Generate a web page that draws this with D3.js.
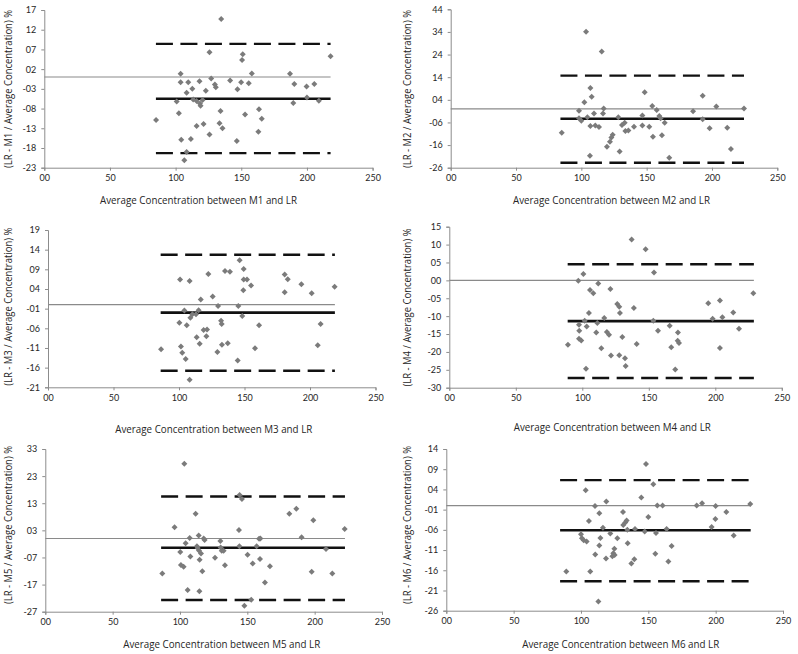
<!DOCTYPE html>
<html><head><meta charset="utf-8">
<script src="https://cdn.jsdelivr.net/npm/d3@7"></script>
<style>body{margin:0;background:#fff} svg{display:block} text{font-family:Lato,"Open Sans",sans-serif;fill:#262626}</style>
</head><body><svg id="c" width="798" height="654"></svg>
<script>
const methods = ["M1","M2","M3","M4","M5","M6"];
const xTickValues = [0,50,100,150,200,250];

const m1X = [134.7,85.1,103.8,103.8,109.6,108.4,112.7,100.8,102.5,104.3,111.6,108.4,106.6,113.4,116,118.5,119,120.5,118.2,123,116,121.3,125.8,127.1,129.9,130.6,125.8,134.2,133.4,135.7,141.5,147.1,149.9,151.1,150.6,146.6,152.9,158,155.7,163.5,165.6,163,187.1,190.4,189.6,199.7,200,205.6,209.1,218];
const m1Y = [14.7,-10.9,0.8,-1.3,-1.3,-4.0,-3.0,-6.2,-9.2,-15.9,-15.7,-19.0,-21.1,-5.7,-6.1,-6.7,-7.3,-5.8,-1.1,-3.5,-12.4,-11.9,6.3,-0.4,-1.9,-2.6,-14.6,-8.6,-11.7,-13.0,-0.9,-3.1,-1.3,5.8,4.3,-16.2,-9.5,0.9,-1.6,-8.2,-10.6,-13.9,0.8,-1.8,-6.6,-2.4,-5.2,-1.8,-6.0,5.3];

const m2X = [103.6,115.6,85,98.2,98.2,100,102.3,104.6,106.9,107.9,106.9,106.6,109.7,110.7,113.5,117.1,116.6,119.6,121.9,123,124,128.3,129.3,131.1,133.2,133.7,136,140.3,146.7,146.7,148.5,152,154.3,154.8,157.7,159.7,160.7,161.7,163.8,167.3,185.5,192.9,192.9,198.2,203.3,211.7,214.5,224.5];
const m2Y = [34.1,25.3,-10.5,-0.8,-4.2,-5.2,2.9,-3.7,9.2,5.4,-7.6,-20.7,-2.0,-7.4,-8.0,0.2,-2.0,-16.7,-14.5,-12.6,-11.4,-3.7,-18.8,-7.1,-6.1,-9.8,-9.6,-7.9,-2.9,-7.4,7.3,-7.9,1.3,-12.3,-0.5,-3.2,-4.2,-11.7,-6.1,-21.6,-1.1,5.8,-4.6,-8.6,1.1,-8.3,-17.7,0.2];

const m3X = [86.3,100.8,100.3,101.5,102.5,104.1,105.1,105.9,108.1,108.7,110.2,108.1,113,115,113.5,115.8,116.6,118.8,121.4,120.9,122.4,125.7,129.3,129.8,132.1,132.6,132.8,135.1,137.2,138.9,145.3,144.8,146.3,148.3,149.4,149.1,149.4,151.9,155,158,161.1,180.7,180.7,183,193.4,201.3,205.9,208.1,218.8];
const m3Y = [-11.3,6.4,-4.6,-10.6,-12.2,-1.5,-13.8,-5.2,6.0,-3.3,-2.4,-19.1,-2.4,-1.4,-8.3,-9.9,1.3,-6.4,-6.3,-8.0,7.8,2.1,-12.0,-0.3,-4.1,-4.9,-10.2,8.6,-9.8,8.4,-0.3,-14.2,11.3,-2.9,9.1,3.7,6.4,6.4,4.9,-11.1,-5.2,7.7,3.2,6.5,5.2,2.9,-10.3,-4.9,4.6];

const m4X = [89.2,97.0,97.5,97.7,97.5,99.2,100.8,101.8,103.3,102.8,105.0,105.8,108.3,110.5,111.3,112.0,114.3,116.5,118.5,120.1,121.1,121.6,126.3,127.8,128.3,127.8,130.1,132.1,132.6,137.1,138.8,140.9,147.6,153.9,153.4,156.9,165.7,166.9,169.9,171.9,171.7,172.7,194.7,198.0,203.5,203.5,205.3,213.5,217.8,228.6];
const m4Y = [-18.0,-0.1,-12.4,-14.1,-16.3,-16.8,1.8,-11.3,-12.9,-24.7,-9.1,-2.7,-3.6,-14.6,-11.9,-0.9,-19.0,-10.5,-14.4,-15.2,-2.4,-21.0,-6.6,-7.4,-9.1,-20.9,-15.8,-21.8,-23.9,11.4,-7.7,-17.8,8.7,2.2,-11.3,-14.1,-12.7,-18.7,-24.9,-14.6,-16.9,-17.5,-6.4,-10.7,-5.6,-18.9,-10.3,-9.0,-13.5,-3.6];

const m5X = [86.9,96.0,100.2,100.7,102.7,103.2,104.2,105.7,107.2,107.7,111.6,112.6,113.1,113.9,114.1,114.6,114.4,115.6,116.6,117.6,118.3,126.0,130.0,130.2,131.0,132.4,133.4,143.8,144.1,144.3,146.0,147.8,150.2,152.9,154.0,156.9,158.7,159.7,159.4,163.1,166.8,181.2,186.4,190.3,197.8,199.0,208.4,213.1,222.3];
const m5Y = [-12.9,4.1,-5.0,-9.8,-10.4,27.6,-1.8,-19.0,0.2,-6.6,9.1,-2.9,-3.5,1.1,-4.4,-7.8,-19.5,-5.5,-12.1,0.0,-0.6,-7.1,-0.9,-3.3,-4.5,-4.5,-9.9,3.1,-2.9,16.0,14.6,-24.8,-6.0,-22.6,-9.2,-2.9,-0.1,0.0,-7.6,-16.2,-10.2,9.1,11.0,0.5,-12.3,6.7,-3.9,-12.9,3.5];

const m6X = [89.1,100.0,100.7,102.0,103.5,104.2,105.9,106.9,110.4,110.6,112.9,113.6,113.6,114.4,116.3,118.8,118.6,121.8,123.3,124.0,124.8,125.0,127.0,131.2,131.4,132.9,133.9,134.4,134.7,137.4,139.6,140.1,144.8,147.3,148.3,150.0,153.7,155.2,155.7,156.7,160.6,163.6,164.9,167.3,185.9,189.9,200.0,199.8,197.0,207.9,213.4,225.7];
const m6Y = [-16.3,-7.1,-8.1,-8.6,3.8,-8.9,-3.8,-16.3,-0.1,-12.1,-23.7,-1.9,-9.9,-8.0,-5.5,1.0,-13.1,-6.9,-12.5,-11.8,-10.7,-12.2,-8.1,-1.6,-4.8,-4.2,-3.7,-6.0,-9.3,-14.3,-13.3,-5.8,2.0,-6.4,10.3,-2.8,5.3,-11.9,-6.8,0.0,0.0,-5.8,-13.8,-10.0,0.0,0.6,-0.1,-3.3,-5.3,-1.6,-7.4,0.4];

const yTicksM1 = [17,12,7,2,-3,-8,-13,-18,-23];
const yTicksM2 = [44,34,24,14,4,-6,-16,-26];
const yTicksM3 = [19,14,9,4,-1,-6,-11,-16,-21];
const yTicksM4 = [15,10,5,0,-5,-10,-15,-20,-25,-30];
const yTicksM5 = [33,23,13,3,-7,-17,-27];
const yTicksM6 = [14,9,4,-1,-6,-11,-16,-21,-26];

const meanBias = [-5.5,-4.4,-2.0,-11.4,-3.4,-6.1];
const upperLoA = [8.4,14.7,12.7,4.5,15.5,6.3];
const lowerLoA = [-19.3,-23.8,-16.8,-27.3,-22.7,-18.7];
const lineStart = [85,84,86,89,86,84.5];
const lineEnd = [218,224.5,219,229,222.5,226];

const xs = [m1X,m2X,m3X,m4X,m5X,m6X];
const ys = [m1Y,m2Y,m3Y,m4Y,m5Y,m6Y];
const yTicks = [yTicksM1,yTicksM2,yTicksM3,yTicksM4,yTicksM5,yTicksM6];

// layout (pixel positions of each plot area and its titles)
const layout = [
  {l:44.3, r:372.6, t:10,    b:167.7, tx:198.5, ty:199.3, yx:8,     yy:89},
  {l:450.7,r:777.3, t:9.3,   b:167.7, tx:611.5, ty:199.5, yx:407,   yy:89},
  {l:48,   r:375.5, t:230,   b:387.3, tx:213.8, ty:428.3, yx:8,     yy:306.7},
  {l:449.3,r:781.8, t:226.7, b:387.7, tx:612.3, ty:426.7, yx:407,   yy:307.5},
  {l:45.3, r:382,   t:449,   b:611.7, tx:221.7, ty:643.3, yx:8,     yy:525},
  {l:446.3,r:783,   t:449,   b:610.7, tx:620.7, ty:643,   yx:407,   yy:525}
];

const fmt = v => (v < 0 ? "-" : "") + String(Math.abs(v)).padStart(2, "0");
const svg = d3.select("#c");

methods.forEach((m, i) => {
  const L = layout[i];
  const yt = yTicks[i];
  const x = d3.scaleLinear().domain([0, 250]).range([L.l, L.r]);
  const y = d3.scaleLinear().domain([d3.min(yt), d3.max(yt)]).range([L.b, L.t]);
  const g = svg.append("g");

  // axes
  const xAxis = d3.axisBottom(x).tickValues(xTickValues).tickFormat(fmt).tickSize(3).tickPadding(4);
  const yAxis = d3.axisLeft(y).tickValues(yt).tickFormat(fmt).tickSize(3).tickPadding(5);
  const gx = g.append("g").attr("transform", `translate(0,${L.b})`).call(xAxis);
  const gy = g.append("g").attr("transform", `translate(${L.l},0)`).call(yAxis);
  [gx, gy].forEach(a => {
    a.select(".domain").attr("stroke", "#8c8c8c").attr("stroke-width", 1);
    a.selectAll(".tick line").attr("stroke", "#8c8c8c");
    a.selectAll(".tick text").style("font-size", "9px").attr("fill", "#262626");
  });

  // zero line
  g.append("line").attr("x1", x(0)).attr("x2", x(lineEnd[i]))
    .attr("y1", y(0)).attr("y2", y(0)).attr("stroke", "#8a8a8a").attr("stroke-width", 1.2);
  // limits of agreement
  [upperLoA[i], lowerLoA[i]].forEach(v => {
    g.append("line").attr("x1", x(lineStart[i])).attr("x2", x(lineEnd[i]))
      .attr("y1", y(v)).attr("y2", y(v)).attr("stroke", "#111").attr("stroke-width", 2.4)
      .attr("stroke-dasharray", "17,7.5");
  });
  // mean bias
  g.append("line").attr("x1", x(lineStart[i])).attr("x2", x(lineEnd[i]))
    .attr("y1", y(meanBias[i])).attr("y2", y(meanBias[i])).attr("stroke", "#111").attr("stroke-width", 2.6);

  // points
  const pts = xs[i].map((d, k) => [d, ys[i][k]]);
  const sym = d3.symbol().type(d3.symbolSquare).size(18);
  g.append("g").selectAll("path").data(pts).join("path")
    .attr("d", sym)
    .attr("transform", d => `translate(${x(d[0])},${y(d[1])}) rotate(45)`)
    .attr("fill", "#7b7b7b");

  // titles
  g.append("text").attr("x", L.tx).attr("y", L.ty).attr("text-anchor", "middle")
    .attr("dominant-baseline", "central")
    .style("font-family", "'Open Sans', Lato, sans-serif").style("font-size", "11.5px")
    .attr("textLength", 197).attr("lengthAdjust", "spacingAndGlyphs")
    .text(`Average Concentration between ${m} and LR`);
  g.append("text").attr("transform", `translate(${L.yx},${L.yy}) rotate(-90)`)
    .attr("text-anchor", "middle").attr("dominant-baseline", "central")
    .style("font-family", "'Open Sans', Lato, sans-serif").style("font-size", "10px")
    .attr("textLength", 158).attr("lengthAdjust", "spacingAndGlyphs")
    .text(`(LR - ${m} / Average Concentration) %`);
});
</script></body></html>
